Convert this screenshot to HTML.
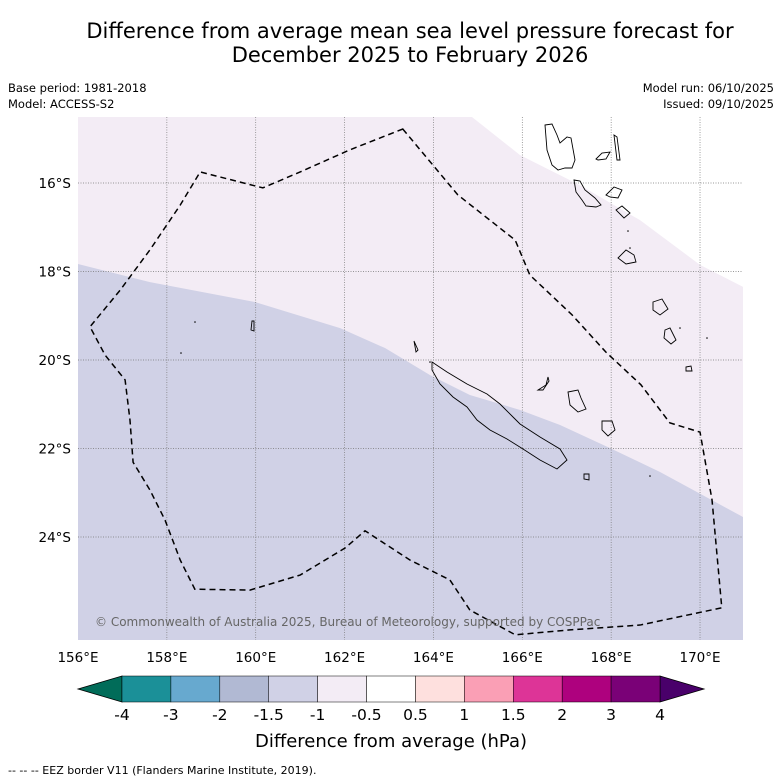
<!DOCTYPE html>
<html><head><meta charset="utf-8"><style>
body{margin:0;background:#fff;font-family:"Liberation Sans","DejaVu Sans",sans-serif}
#w{position:relative;width:781px;height:781px;overflow:hidden}
.t{position:absolute;white-space:nowrap;color:#000}
</style></head><body>
<div id="w">
<div class="t" style="left:0;width:820px;text-align:center;top:19px;font-size:21px;line-height:24px;font-family:'DejaVu Sans',sans-serif">Difference from average mean sea level pressure forecast for<br>December 2025 to February 2026</div>
<div class="t" style="left:8px;top:80px;font-size:11.5px;line-height:16px;font-family:'DejaVu Sans',sans-serif">Base period: 1981-2018<br>Model: ACCESS-S2</div>
<div class="t" style="right:7px;top:80px;font-size:11.5px;line-height:16px;text-align:right;font-family:'DejaVu Sans',sans-serif">Model run: 06/10/2025<br>Issued: 09/10/2025</div>
<svg id="s" width="781" height="781" style="position:absolute;left:0;top:0" font-family="DejaVu Sans, sans-serif"></svg>
</div>
<script>
const lonTicks=[156,158,160,162,164,166,168,170];
const latTicks=[16,18,20,22,24];
const cbBounds=["-4","-3","-2","-1.5","-1","-0.5","0.5","1","1.5","2","3","4"];
const cbColors=["#1b9098","#67a9cf","#b1b9d3","#d0d1e6","#f3ecf5","#ffffff","#fee0de","#fa9fb5","#dd3497","#ae017e","#7a0177"];
const whiteLon=[164.87,165.95,167.30,168.65,170.0,170.97];
const whiteLat=[14.51,15.37,16.05,16.84,17.85,18.35];
const blueLon=[156,157.62,159.98,161.90,162.91,163.92,164.82,165.95,166.85,167.97,169.10,170.97];
const blueLat=[17.83,18.24,18.69,19.28,19.73,20.34,20.79,21.13,21.47,21.99,22.53,23.55];
const eezLon=[163.31,164.55,165.84,166.17,167.12,167.88,168.67,169.32,170.0,170.27,170.49,168.65,167.07,165.84,164.82,164.37,163.47,162.46,162.01,161.0,159.87,158.63,158.30,157.96,157.62,157.24,157.17,157.06,156.61,156.27,156.95,157.62,158.30,158.75,160.16,161.0,162.12];
const eezLat=[14.78,16.27,17.29,18.08,18.98,19.82,20.56,21.42,21.63,23.16,25.60,25.99,26.10,26.21,25.65,24.97,24.52,23.86,24.25,24.86,25.20,25.18,24.52,23.62,22.94,22.31,21.36,20.45,19.89,19.25,18.42,17.51,16.50,15.75,16.11,15.75,15.25];
const L=78,R=743,T=117,B=640;
const xs=lon=>78+(lon-156)*44.43;
const ys=lat=>183+(lat-16)*44.25;
const s=document.getElementById('s');const NS='http://www.w3.org/2000/svg';
function el(t,a,p){const e=document.createElementNS(NS,t);for(const k in a)e.setAttribute(k,a[k]);(p||s).appendChild(e);return e;}
const clip=el('clipPath',{id:'c'});el('rect',{x:L,y:T,width:R-L,height:B-T},clip);
const g=el('g',{'clip-path':'url(#c)'});


let r=el('rect',{x:L,y:T,width:R-L,height:B-T,fill:'#f3ecf5'},g);


let d='M'+xs(whiteLon[0])+','+T;whiteLon.forEach((v,i)=>d+=' L'+xs(v)+','+ys(whiteLat[i]));d+=' L'+R+','+T+' Z';
let p=el('path',{d:d,fill:'#ffffff'},g);


d='M'+L+','+B;blueLon.forEach((v,i)=>d+=' L'+xs(v)+','+ys(blueLat[i]));d+=' L'+R+','+B+' Z';
p=el('path',{d:d,fill:'#d0d1e6'},g);


lonTicks.forEach(v=>{if(v>156){let l=el('line',{x1:xs(v),x2:xs(v),y1:T,y2:B,stroke:'#777','stroke-width':0.7,'stroke-dasharray':'1,1.5'},g);}});
latTicks.forEach(v=>{let l=el('line',{x1:L,x2:R,y1:ys(v),y2:ys(v),stroke:'#777','stroke-width':0.7,'stroke-dasharray':'1,1.5'},g);});
const coasts=["M432,362 L447,372 L467,384 L487,394 L500,404 L513,417 L520,424 L540,437 L560,449 L567,460 L557,469 L540,460 L523,449 L507,439 L490,430 L477,420 L467,407 L453,397 L440,384 L432,370 Z",
"M545,125 L552,124 L557,135 L560,143 L567,137 L571,138 L575,160 L572,168 L565,168 L558,170 L552,165 L547,150 Z",
"M574,180 L580,181 L585,190 L595,198 L601,205 L596,207 L586,206 L582,200 L576,192 Z",
"M614,135 L617,137 L620,160 L617,160 Z","M596,159 L602,153 L610,152 L606,159 L598,160 Z",
"M606,195 L614,187 L622,190 L618,198 L610,197 Z","M616,210 L622,206 L630,213 L624,218 Z",
"M618,258 L626,250 L634,255 L636,262 L626,264 Z","M653,302 L662,299 L668,309 L660,315 L653,310 Z",
"M665,330 L670,328 L676,340 L671,344 L664,338 Z","M686,367 L691,366 L692,371 L686,371 Z",
"M538,390 L546,385 L548,377 L549,381 L543,390 Z","M568,392 L578,390 L581,398 L586,409 L578,412 L570,405 Z",
"M602,421 L612,421 L615,430 L608,436 L602,430 Z","M584,474 L589,474 L589,480 L584,479 Z",
"M414,341 L418,350 L416,352 Z","M252,321 L254,321 L254,331 L251,330 Z"];
coasts.forEach(c=>{let q=el('path',{d:c,fill:'none',stroke:'#000','stroke-width':0.9},g);});
[[195,322],[181,353],[628,231],[680,328],[707,338],[650,476],[630,248],[430,362]].forEach(([x,y])=>{let q=el('circle',{cx:x,cy:y,r:0.8,fill:'#000'},g);});
d='';eezLon.forEach((v,i)=>d+=(i?' L':'M')+xs(v)+','+ys(eezLat[i]));d+=' Z';
p=el('path',{d:d,fill:'none',stroke:'#000','stroke-width':1.5,'stroke-dasharray':'6,4'},g);


let tx=el('text',{x:95,y:626,'font-size':12,fill:'#666'},g);tx.textContent='© Commonwealth of Australia 2025, Bureau of Meteorology, supported by COSPPac';


lonTicks.forEach(v=>{let t=el('text',{x:xs(v),y:662,'font-size':13.5,'text-anchor':'middle'});t.textContent=v+'°E';});
latTicks.forEach(v=>{let t=el('text',{x:71,y:ys(v)+5,'font-size':13.5,'text-anchor':'end'});t.textContent=v+'°S';});
const cx0=122,cx1=660,cy0=676,cy1=702,bw=(cx1-cx0)/cbColors.length;
let a=el('polygon',{points:`${cx0},${cy0} ${cx0},${cy1} 78,689`,fill:'#016c59',stroke:'#000','stroke-width':0.8});


a=el('polygon',{points:`${cx1},${cy0} ${cx1},${cy1} 704,689`,fill:'#49006a',stroke:'#000','stroke-width':0.8});


cbColors.forEach((c,i)=>{let q=el('rect',{x:cx0+i*bw,y:cy0,width:bw,height:cy1-cy0,fill:c,stroke:'#000','stroke-width':0.5});});
cbBounds.forEach((b,i)=>{let t=el('text',{x:cx0+i*bw,y:720,'font-size':15.5,'text-anchor':'middle'});t.textContent=b;});
tx=el('text',{x:391,y:747,'font-size':18,'text-anchor':'middle'});tx.textContent='Difference from average (hPa)';


tx=el('text',{x:8,y:774,'font-size':11});tx.textContent='--  --  -- EEZ border V11 (Flanders Marine Institute, 2019).';


</script>
</body></html>
